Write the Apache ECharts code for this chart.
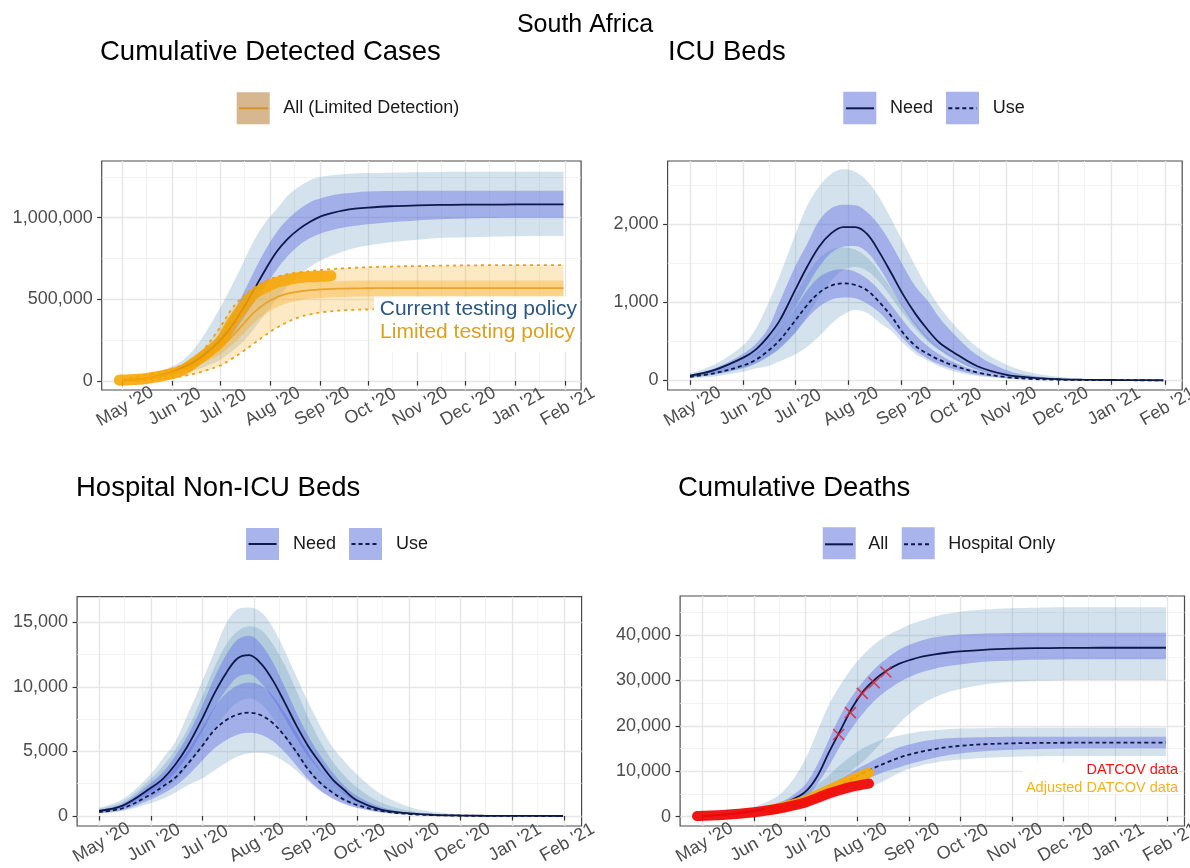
<!DOCTYPE html>
<html><head><meta charset="utf-8">
<script src="https://cdn.jsdelivr.net/npm/echarts@6.0.0/dist/echarts.min.js"></script>
<style>html,body{margin:0;padding:0;background:#fff}#c{width:1190px;height:868px}</style>
</head><body><div id="c"></div>
<script>
// ---------- axis scaffolding ----------
const monthTicks = ['2020-05-01','2020-06-01','2020-07-01','2020-08-01','2020-09-01','2020-10-01','2020-11-01','2020-12-01','2021-01-01','2021-02-01'];
const monthLabels = ["May '20","Jun '20","Jul '20","Aug '20","Sep '20","Oct '20","Nov '20","Dec '20","Jan '21","Feb '21"];
const minorXTicks = ['2020-05-16','2020-06-16','2020-07-16','2020-08-16','2020-09-16','2020-10-16','2020-11-16','2020-12-16','2021-01-16'];
const casesTicks = [0,500000,1000000], casesMinor = [250000,750000,1250000];
const icuTicks = [0,1000,2000], icuMinor = [500,1500,2500];
const hospTicks = [0,5000,10000,15000], hospMinor = [2500,7500,12500];
const deathsTicks = [0,10000,20000,30000,40000], deathsMinor = [5000,15000,25000,35000,45000];

// ---------- model sample dates ----------
const sampleDates = ['2020-05-01','2020-05-15','2020-06-01','2020-06-08','2020-06-15','2020-06-22','2020-07-01','2020-07-08','2020-07-15','2020-07-22','2020-07-29','2020-08-05','2020-08-12','2020-08-19','2020-08-26','2020-09-02','2020-09-09','2020-09-16','2020-09-23','2020-10-01','2020-10-15','2020-11-01','2020-11-15','2020-12-01','2020-12-15','2021-01-01','2021-01-15','2021-01-31'];

// ---------- Cumulative detected cases ----------
const casesCurrentMed     = [5000,15000,55000,85000,120000,170000,250000,335000,440000,560000,680000,790000,870000,930000,975000,1010000,1030000,1045000,1055000,1062000,1070000,1075000,1078000,1080000,1080000,1081000,1081000,1081000];
const casesCurrentInnerHi = [6000,18000,65000,100000,145000,205000,290000,400000,530000,670000,800000,910000,990000,1050000,1095000,1120000,1138000,1148000,1155000,1160000,1163000,1165000,1165000,1165000,1165000,1165000,1165000,1165000];
const casesCurrentInnerLo = [4000,12000,45000,70000,98000,140000,205000,280000,380000,480000,580000,680000,765000,830000,875000,905000,925000,940000,950000,960000,972000,983000,990000,995000,998000,1000000,1000000,1000000];
const casesCurrentOuterHi = [8000,25000,90000,130000,200000,300000,450000,580000,720000,860000,970000,1050000,1135000,1190000,1230000,1250000,1260000,1266000,1270000,1273000,1275000,1278000,1280000,1281000,1282000,1282000,1282000,1282000];
const casesCurrentOuterLo = [3000,8000,30000,45000,65000,90000,130000,180000,240000,320000,410000,500000,580000,645000,700000,740000,770000,795000,815000,830000,850000,865000,875000,880000,884000,886000,888000,888000];
const casesLimitedMed     = [5000,15000,50000,75000,105000,145000,205000,270000,345000,420000,475000,512000,535000,548000,556000,561000,564000,566000,567000,568000,569000,569000,569000,569000,569000,569000,569000,569000];
const casesLimitedInnerHi = [6000,18000,58000,88000,125000,175000,245000,320000,405000,480000,535000,567000,585000,597000,604000,608000,611000,613000,614000,615000,615000,615000,615000,615000,615000,615000,615000,615000];
const casesLimitedInnerLo = [4000,12000,42000,62000,88000,118000,165000,220000,285000,355000,410000,450000,477000,493000,503000,509000,513000,515000,517000,518000,519000,520000,520000,520000,520000,520000,520000,520000];
const casesLimitedOuterHi = [10000,35000,75000,100000,135000,210000,330000,440000,515000,572000,612000,638000,655000,665000,673000,680000,686000,690000,694000,697000,701000,704000,706000,708000,709000,710000,710000,710000];
const casesLimitedOuterLo = [2000,6000,20000,30000,45000,65000,95000,135000,180000,230000,280000,325000,362000,390000,408000,420000,428000,433000,436000,438000,439000,439000,439000,439000,439000,439000,439000,439000];
const casesDataDates = ['2020-04-29','2020-05-01','2020-05-15','2020-06-01','2020-06-08','2020-06-15','2020-06-22','2020-07-01','2020-07-08','2020-07-15','2020-07-22','2020-07-29','2020-08-05','2020-08-12','2020-08-19','2020-08-26','2020-09-02','2020-09-08'];
const casesData      = [5000,6000,14000,45000,70000,115000,165000,240000,355000,450000,530000,572000,603000,620000,632000,638000,641000,644000];

// ---------- ICU beds ----------
const icuNeedMed     = [60,130,290,390,550,760,1150,1450,1710,1880,1960,1960,1870,1640,1370,1090,850,650,480,360,180,70,35,15,8,4,2,1];
const icuNeedOuterHi = [90,200,450,650,960,1330,1850,2230,2480,2640,2700,2670,2550,2340,2060,1760,1460,1180,940,720,420,200,100,45,20,8,4,2];
const icuNeedOuterLo = [35,70,150,210,290,400,600,820,1060,1270,1410,1450,1400,1260,1060,850,660,500,380,270,140,55,25,10,5,2,1,0];
const icuNeedInnerHi = [70,150,340,460,650,1000,1450,1740,2040,2200,2245,2240,2150,1980,1740,1460,1200,1020,800,600,320,130,60,25,12,5,2,1];
const icuNeedInnerLo = [50,110,240,320,450,620,930,1200,1450,1630,1710,1720,1640,1440,1180,920,700,520,390,280,130,50,22,9,4,2,1,0];
const icuUseMed      = [45,90,190,260,370,510,760,960,1120,1210,1240,1220,1150,1000,820,600,440,340,260,190,100,40,18,8,4,2,1,0];
const icuUseOuterHi  = [60,130,280,380,530,730,1080,1350,1560,1670,1700,1670,1570,1390,1170,940,730,560,420,300,150,60,28,12,5,2,1,0];
const icuUseOuterLo  = [25,50,110,150,180,240,330,430,560,720,840,900,860,740,630,470,340,255,180,115,55,22,10,4,2,1,0,0];
const icuUseInnerHi  = [55,115,240,330,460,630,920,1150,1320,1400,1420,1390,1300,1150,960,760,580,440,330,235,120,48,22,9,4,2,1,0];
const icuUseInnerLo  = [38,75,160,215,300,410,610,790,940,1030,1060,1050,980,870,700,530,380,280,205,145,70,28,12,5,2,1,0,0];

// ---------- Hospital non-ICU beds ----------
const hospNeedMed     = [400,800,2200,2900,3950,5300,7500,9400,11000,12200,12450,11800,10500,8800,7000,5400,4100,2900,2050,1200,500,200,90,40,20,10,5,2];
const hospNeedOuterHi = [650,1300,3300,4500,5700,7700,10400,12600,14800,16000,16150,15800,14600,12800,10800,8800,7000,5400,4300,3200,1700,700,320,140,60,25,12,5];
const hospNeedOuterLo = [300,550,1500,2000,2700,3700,5300,6700,7900,8800,9100,8700,7600,6100,4700,3500,2500,1800,1200,780,340,120,50,22,10,4,2,1];
const hospNeedInnerHi = [480,950,2600,3400,4600,6100,8500,10600,12400,13650,13950,13300,11900,10000,8000,6200,4700,3450,2400,1550,700,250,110,50,24,12,6,2];
const hospNeedInnerLo = [330,660,1850,2450,3350,4550,6500,8250,9700,10750,10970,10300,9100,7600,6000,4600,3500,2550,1750,1080,470,160,70,30,15,8,4,1];
const hospUseMed      = [320,600,1700,2300,2950,3950,5400,6600,7400,7850,8000,7800,7200,6200,4950,3600,2580,1850,1280,850,400,150,65,28,12,5,2,1];
const hospUseOuterHi  = [560,1100,2900,3900,5100,6600,9200,11400,13200,14300,14700,14400,13300,11700,9700,7600,5800,4300,3200,2200,1050,400,170,70,30,14,6,3];
const hospUseOuterLo  = [200,380,1000,1350,1800,2350,2900,3500,4100,4600,4850,4900,4700,4200,3500,2700,1950,1400,1000,650,300,110,45,20,9,4,2,1];
const hospUseInnerHi  = [420,800,2150,2850,3750,4950,6800,8350,9450,10100,10330,10100,9300,8000,6500,4900,3600,2600,1850,1250,580,210,90,38,16,7,3,1];
const hospUseInnerLo  = [240,450,1300,1750,2300,3050,4250,5200,5850,6300,6450,6300,5800,4950,3900,2850,2000,1400,950,620,270,95,40,17,7,3,1,0];

// ---------- Cumulative deaths ----------
const deathsAllMed      = [100,500,1300,1800,2500,3500,5400,8700,14000,19000,24000,27800,30400,32300,33700,34600,35300,35750,36100,36400,36750,37000,37100,37150,37180,37200,37200,37200];
const deathsAllInnerHi  = [130,600,1550,2150,3000,4300,7000,11200,16800,22300,26600,30000,32800,35000,36800,38000,38900,39500,39850,40100,40350,40450,40500,40510,40510,40510,40510,40510];
const deathsAllInnerLo  = [80,400,1100,1500,2050,2800,4200,7000,11000,15600,19600,23000,25800,27900,29600,30900,31900,32600,33100,33500,34100,34400,34550,34600,34640,34640,34640,34640];
const deathsAllOuterHi  = [200,800,2200,3200,4600,7200,12500,18500,24500,29000,32800,35800,38200,39900,41200,42400,43300,44100,44700,45150,45600,45900,46000,46090,46090,46090,46090,46090];
const deathsAllOuterLo  = [50,250,800,1100,1500,2000,2800,4200,6000,8200,10300,12300,15000,17800,20600,23000,24900,26300,27300,28100,29100,29700,29950,30050,30090,30090,30090,30090];
const deathsHospMed     = [100,450,1200,1600,2000,2500,3100,4200,5600,7000,8400,9700,10900,12000,13000,13800,14400,14900,15300,15600,15950,16150,16250,16280,16300,16300,16300,16300];
const deathsHospInnerHi = [120,550,1400,1850,2350,2950,3700,5000,6600,8300,9900,11300,12700,14000,15300,16000,16600,17000,17250,17400,17500,17580,17610,17610,17610,17610,17610,17610];
const deathsHospInnerLo = [80,380,1000,1350,1700,2100,2600,3500,4700,5900,7100,8100,9100,10100,10900,11700,12400,13000,13500,13900,14400,14750,14900,15000,15045,15045,15045,15045];
const deathsHospOuterHi = [150,650,1700,2300,3000,3900,5200,7000,9000,11500,13500,15200,16400,17300,17900,18400,18800,19050,19250,19400,19500,19560,19595,19595,19595,19595,19595,19595];
const deathsHospOuterLo = [50,250,750,1000,1300,1650,2100,2800,3600,4500,5300,6000,7000,8300,9700,10700,11400,11900,12300,12600,12950,13200,13300,13357,13357,13357,13357,13357];
const datcovDates = ['2020-04-28','2020-05-01','2020-05-15','2020-06-01','2020-06-08','2020-06-15','2020-06-22','2020-07-01','2020-07-08','2020-07-15','2020-07-22','2020-07-29','2020-08-05','2020-08-08'];
const datcovData  = [150,200,450,1000,1350,1750,2300,3100,4100,5100,5900,6600,7100,7300];
const adjustedDates = ['2020-06-10','2020-06-15','2020-06-22','2020-07-01','2020-07-08','2020-07-15','2020-07-22','2020-07-29','2020-08-05','2020-08-08'];
const adjustedData  = [1500,1900,2600,3500,4700,5900,7100,8200,9300,9700];
const reportedDates = ['2020-07-21','2020-07-28','2020-08-04','2020-08-11','2020-08-18'];
const reportedDeaths = [18100,22900,27150,29500,31850];

// ---------- build ----------
const categories = [];
for (let d = new Date(Date.UTC(2020,3,18)); d <= new Date(Date.UTC(2021,1,11)); d.setUTCDate(d.getUTCDate()+1)) categories.push(d.toISOString().slice(0,10));

const FONT = "'Liberation Sans', Arial, Helvetica, sans-serif";
const OUTER_BLUE = 'rgba(80,140,180,0.25)', INNER_BLUE = 'rgba(90,100,230,0.40)';
const OUTER_OR = 'rgba(250,190,70,0.32)', INNER_OR = 'rgba(245,170,40,0.38)';
const NAVY = '#0d1a48';

const panels = [
  {left:101.7, top:161, width:479.4, height:229, min:-55100, max:1347200, major:casesTicks, minor:casesMinor},
  {left:667.6, top:161, width:514.6, height:229, min:-124, max:2806, major:icuTicks, minor:icuMinor},
  {left:77.1, top:596.7, width:504.5, height:229.3, min:-774, max:16981, major:hospTicks, minor:hospMinor},
  {left:680.1, top:596, width:504.4, height:230, min:-2048, max:48591, major:deathsTicks, minor:deathsMinor}
];

const grid = [], xAxis = [], yAxis = [];
panels.forEach((p, g) => {
  grid.push({left:p.left, top:p.top, width:p.width, height:p.height, show:true, backgroundColor:'#fff', borderColor:'#4a4a4a', borderWidth:1.2, containLabel:false, outerBoundsMode:'none'});
  xAxis.push({type:'category', gridIndex:g, data:categories, boundaryGap:false,
    axisLine:{show:false},
    axisTick:{show:true, interval:(i,v)=>monthTicks.includes(v), length:4.5, lineStyle:{color:'#333', width:1.2}},
    axisLabel:{show:true, interval:(i,v)=>monthTicks.includes(v), formatter:v=>monthLabels[monthTicks.indexOf(v)],
      rotate:30, align:'center', verticalAlign:'middle', margin:18, padding:[0,0,0,6], fontSize:18, color:'#4d4d4d', fontFamily:FONT},
    splitLine:{show:true, interval:(i,v)=>monthTicks.includes(v), lineStyle:{color:'#e6e6e6', width:1.4}}
  });
  xAxis.push({type:'category', gridIndex:g, data:categories, boundaryGap:false,
    axisLine:{show:false}, axisTick:{show:false}, axisLabel:{show:false},
    splitLine:{show:true, interval:(i,v)=>minorXTicks.includes(v), lineStyle:{color:'#efefef', width:0.8}}
  });
  yAxis.push({type:'value', gridIndex:g, min:p.min, max:p.max, position:'left',
    axisLine:{show:false},
    axisTick:{show:true, length:4.5, customValues:p.major, lineStyle:{color:'#333', width:1.2}},
    axisLabel:{customValues:p.major, formatter:v=>Number(v).toLocaleString('en-US'), fontSize:18, color:'#4d4d4d', margin:9, fontFamily:FONT},
    splitLine:{show:true, lineStyle:{color:'#e6e6e6', width:1.4}}
  });
  yAxis.push({type:'value', gridIndex:g, min:p.min, max:p.max, position:'left',
    axisLine:{show:false}, axisTick:{show:false, customValues:p.minor}, axisLabel:{show:false},
    splitLine:{show:true, lineStyle:{color:'#efefef', width:0.8}}
  });
});

const pair = (dates, vals) => dates.map((d,i)=>[d, vals[i]]);
function band(g, lo, hi, color, id){
  return [
    {type:'line', xAxisIndex:2*g, yAxisIndex:2*g, stack:id, data:pair(sampleDates, lo), smooth:0.35, symbol:'none', lineStyle:{width:0, opacity:0}, silent:true, z:1},
    {type:'line', xAxisIndex:2*g, yAxisIndex:2*g, stack:id, data:pair(sampleDates, hi.map((v,i)=>v-lo[i])), smooth:0.35, symbol:'none', lineStyle:{width:0, opacity:0}, areaStyle:{color:color, opacity:1}, silent:true, z:1}
  ];
}
function line(g, dates, vals, color, width, type, z, extra){
  return Object.assign({type:'line', xAxisIndex:2*g, yAxisIndex:2*g, data:pair(dates, vals), smooth:0.35, symbol:'none', lineStyle:{color:color, width:width, type:type||'solid'}, silent:true, z:z||3}, extra||{});
}

const series = [].concat(
  band(0, casesCurrentOuterLo, casesCurrentOuterHi, OUTER_BLUE, 'co'),
  band(0, casesLimitedOuterLo, casesLimitedOuterHi, OUTER_OR, 'lo'),
  band(0, casesCurrentInnerLo, casesCurrentInnerHi, INNER_BLUE, 'ci'),
  band(0, casesLimitedInnerLo, casesLimitedInnerHi, INNER_OR, 'li'),
  [
    line(0, sampleDates, casesCurrentMed, NAVY, 1.8),
    line(0, sampleDates, casesLimitedMed, '#e9a331', 1.8),
    line(0, sampleDates, casesLimitedOuterHi, '#e9a01c', 1.8, [3,4]),
    line(0, sampleDates, casesLimitedOuterLo, '#e9a01c', 1.8, [3,4]),
    line(0, casesDataDates, casesData, 'rgba(247,165,0,0.88)', 11, 'solid', 5, {lineStyle:{color:'rgba(247,165,0,0.88)', width:11, cap:'round', join:'round'}})
  ],
  band(1, icuNeedOuterLo, icuNeedOuterHi, OUTER_BLUE, 'no'),
  band(1, icuUseOuterLo, icuUseOuterHi, OUTER_BLUE, 'uo'),
  band(1, icuNeedInnerLo, icuNeedInnerHi, INNER_BLUE, 'ni'),
  band(1, icuUseInnerLo, icuUseInnerHi, INNER_BLUE, 'ui'),
  [ line(1, sampleDates, icuNeedMed, NAVY, 1.8), line(1, sampleDates, icuUseMed, NAVY, 1.8, [4,3]) ],
  band(2, hospNeedOuterLo, hospNeedOuterHi, OUTER_BLUE, 'hno'),
  band(2, hospUseOuterLo, hospUseOuterHi, OUTER_BLUE, 'huo'),
  band(2, hospNeedInnerLo, hospNeedInnerHi, INNER_BLUE, 'hni'),
  band(2, hospUseInnerLo, hospUseInnerHi, INNER_BLUE, 'hui'),
  [ line(2, sampleDates, hospNeedMed, NAVY, 1.8), line(2, sampleDates, hospUseMed, NAVY, 1.8, [4,3]) ],
  band(3, deathsAllOuterLo, deathsAllOuterHi, OUTER_BLUE, 'dao'),
  band(3, deathsHospOuterLo, deathsHospOuterHi, OUTER_BLUE, 'dho'),
  band(3, deathsAllInnerLo, deathsAllInnerHi, INNER_BLUE, 'dai'),
  band(3, deathsHospInnerLo, deathsHospInnerHi, INNER_BLUE, 'dhi'),
  [
    line(3, sampleDates, deathsAllMed, NAVY, 1.8),
    line(3, sampleDates, deathsHospMed, NAVY, 1.8, [4,3]),
    line(3, adjustedDates, adjustedData, '#f7ab00', 10, 'solid', 5, {lineStyle:{color:'rgba(248,170,0,0.92)', width:10, cap:'round', join:'round'}, clip:false}),
    line(3, datcovDates, datcovData, '#f01010', 10, 'solid', 6, {lineStyle:{color:'rgba(240,10,10,0.95)', width:10, cap:'round', join:'round'}, clip:false}),
    {type:'scatter', xAxisIndex:6, yAxisIndex:6, data:pair(reportedDates, reportedDeaths), symbol:'path://M0,0L10,10M10,0L0,10', symbolSize:11,
      itemStyle:{color:'none', borderColor:'#e0202a', borderWidth:1.6}, silent:true, z:7}
  ]
);

// ---------- titles, legends, annotations ----------
const T = (x, y, text, size, color, align) => ({type:'text', z:100, style:{x:x, y:y, text:text, fill:color||'#000', font:`${size}px ${FONT}`, textAlign:align||'left', textVerticalAlign:'middle'}});
const R = (x, y, w, h, fill) => ({type:'rect', z:99, shape:{x:x, y:y, width:w, height:h}, style:{fill:fill}});
const L = (x1, x2, y, color, dash) => ({type:'line', z:100, shape:{x1:x1, y1:y, x2:x2, y2:y}, style:{stroke:color, lineWidth:2, lineDash:dash||null}});
const KEY = '#a9b3ec';

const graphic = [
  T(585, 25, 'South Africa', 25, '#000', 'center'),
  T(100, 52, 'Cumulative Detected Cases', 27.5),
  T(668, 52, 'ICU Beds', 27.5),
  T(76, 488, 'Hospital Non-ICU Beds', 27.5),
  T(678, 488, 'Cumulative Deaths', 27.5),
  // legends
  R(236.7, 92.3, 33, 32, '#d6b78f'), L(239, 268, 108.3, '#d5952a'), T(283.3, 108.3, 'All (Limited Detection)', 18, '#1a1a1a'),
  R(843.3, 91.7, 33, 32.6, KEY), L(846, 874, 108.3, NAVY), T(890, 108.3, 'Need', 18, '#1a1a1a'),
  R(946, 91.7, 33, 32.6, KEY), L(948.3, 976.7, 108.3, NAVY, [4,3]), T(992.7, 108.3, 'Use', 18, '#1a1a1a'),
  R(246, 528, 33, 32, KEY), L(248.5, 276.5, 544, NAVY), T(293, 544, 'Need', 18, '#1a1a1a'),
  R(349, 528, 33, 32, KEY), L(351.5, 379.5, 544, NAVY, [4,3]), T(396, 544, 'Use', 18, '#1a1a1a'),
  R(822.7, 527.3, 33, 32, KEY), L(825, 853, 544.3, NAVY), T(868.3, 544.3, 'All', 18, '#1a1a1a'),
  R(901.7, 527.3, 33, 32, KEY), L(904, 932, 544.3, NAVY, [4,3]), T(948.3, 544.3, 'Hospital Only', 18, '#1a1a1a'),
  // annotations
  R(374, 296.7, 205, 55, '#fff'),
  T(577, 309, 'Current testing policy', 21, '#2a5786', 'right'),
  T(575, 332.7, 'Limited testing policy', 21, '#dba11c', 'right'),
  R(1022.5, 762.7, 156.5, 31.3, '#fff'),
  T(1178, 770, 'DATCOV data', 14.5, '#ff1010', 'right'),
  T(1178, 787.7, 'Adjusted DATCOV data', 14.5, '#f7b21a', 'right')
];

const chart = echarts.init(document.getElementById('c'), null, {renderer:'canvas'});
chart.setOption({animation:false, backgroundColor:'#fff', textStyle:{fontFamily:FONT}, grid, xAxis, yAxis, series, graphic});
</script>
</body></html>
